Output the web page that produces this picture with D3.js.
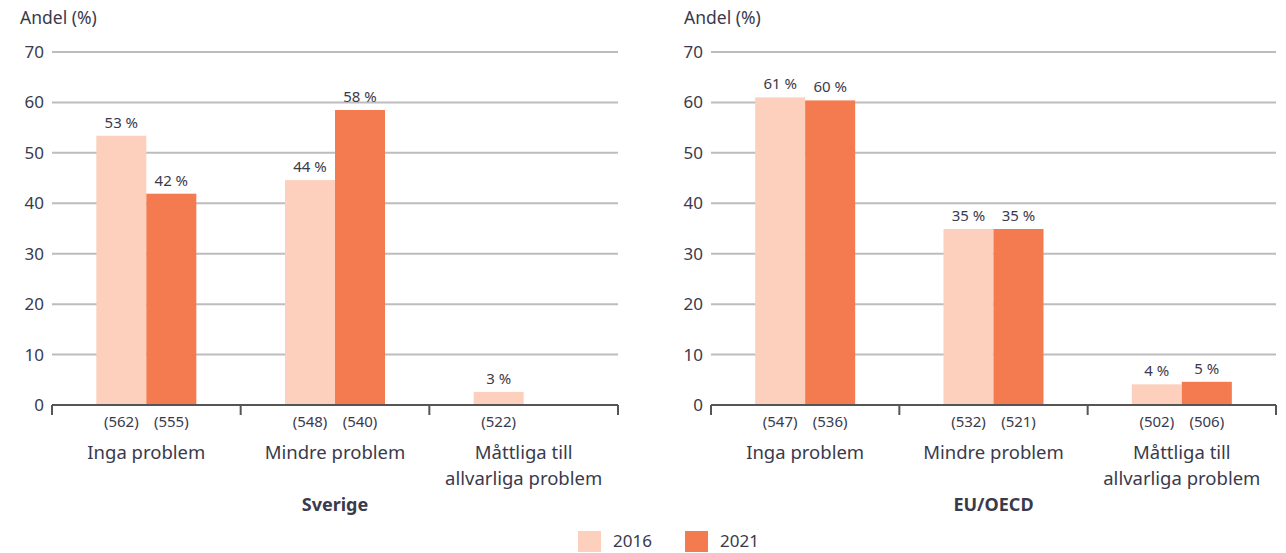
<!DOCTYPE html>
<html>
<head>
<meta charset="utf-8">
<script src="https://cdn.jsdelivr.net/npm/d3@7"></script>
<style>
  body { margin: 0; background: #fff; }
  svg text { font-family: "Noto Sans", "Open Sans", sans-serif; fill: #3a3a4c; }
</style>
</head>
<body>
<div class="svgContainer"></div>
<script>
var categories = [["Inga problem"], ["Mindre problem"], ["Måttliga till", "allvarliga problem"]];
var years = ["2016", "2021"];
var yTicks = [0, 10, 20, 30, 40, 50, 60, 70];

var sverige2016 = [53.4, 44.6, 2.6];
var sverige2021 = [41.9, 58.5, null];
var sverigeLabels2016 = ["53 %", "44 %", "3 %"];
var sverigeLabels2021 = ["42 %", "58 %", null];
var sverigeN2016 = ["(562)", "(548)", "(522)"];
var sverigeN2021 = ["(555)", "(540)", null];

var eu2016 = [61.0, 34.9, 4.1];
var eu2021 = [60.4, 34.9, 4.6];
var euLabels2016 = ["61 %", "35 %", "4 %"];
var euLabels2021 = ["60 %", "35 %", "5 %"];
var euN2016 = ["(547)", "(532)", "(502)"];
var euN2021 = ["(536)", "(521)", "(506)"];

var colors = ["#fdd0bd", "#f37b4f"];

var w = 1286, h = 553;
var svg = d3.select(".svgContainer").append("svg")
  .attr("width", w).attr("height", h);

var y = d3.scaleLinear().domain([0, 70]).range([405, 52]);

function panel(x0, x1, titleX, title, v16, v21, l16, l21, n16, n21) {
  var g = svg.append("g");
  var x = d3.scaleBand().domain(d3.range(categories.length)).range([x0, x1]);
  var sub = d3.scaleBand().domain(years).range([0, 100]);
  var barOffset = (x.bandwidth() - 100) / 2;

  // gridlines
  g.selectAll(".grid").data(yTicks.filter(d => d > 0)).enter().append("line")
    .attr("x1", x0).attr("x2", x1)
    .attr("y1", d => y(d)).attr("y2", d => y(d))
    .attr("stroke", "#bdbdbd").attr("stroke-width", 2);

  // y tick labels
  g.selectAll(".ytick").data(yTicks).enter().append("text")
    .attr("x", x0 - 8).attr("y", d => y(d) + 6)
    .attr("text-anchor", "end")
    .style("font-size", "17px")
    .text(d => d);

  g.append("text").attr("x", titleX).attr("y", 24)
    .style("font-size", "17.5px").text("Andel (%)");

  var series = [v16, v21], labels = [l16, l21], ns = [n16, n21];
  series.forEach(function (vals, s) {
    var idx = d3.range(vals.length).filter(i => vals[i] != null);
    g.selectAll(".bar" + s).data(idx).enter().append("rect")
      .attr("x", i => x(i) + barOffset + sub(years[s]))
      .attr("y", i => y(vals[i]))
      .attr("width", sub.bandwidth())
      .attr("height", i => y(0) - y(vals[i]))
      .attr("fill", colors[s]);
    g.selectAll(".lab" + s).data(idx).enter().append("text")
      .attr("x", i => x(i) + barOffset + sub(years[s]) + sub.bandwidth() / 2)
      .attr("y", i => y(vals[i]) - 8)
      .attr("text-anchor", "middle")
      .style("font-size", "15px")
      .text(i => labels[s][i]);
    g.selectAll(".n" + s).data(idx).enter().append("text")
      .attr("x", i => x(i) + barOffset + sub(years[s]) + sub.bandwidth() / 2)
      .attr("y", 427)
      .attr("text-anchor", "middle")
      .style("font-size", "15px")
      .text(i => ns[s][i]);
  });

  // x axis
  var ticks = [x0].concat(categories.map((c, i) => x(i) + x.bandwidth()));
  g.append("line").attr("x1", x0).attr("x2", x1).attr("y1", y(0)).attr("y2", y(0))
    .attr("stroke", "#555").attr("stroke-width", 2);
  g.selectAll(".xt").data(ticks).enter().append("line")
    .attr("x1", d => d).attr("x2", d => d).attr("y1", y(0)).attr("y2", y(0) + 10)
    .attr("stroke", "#555").attr("stroke-width", 2);

  categories.forEach(function (lines, i) {
    var t = g.append("text").attr("text-anchor", "middle").style("font-size", "18.5px");
    lines.forEach(function (ln, k) {
      t.append("tspan").attr("x", x(i) + x.bandwidth() / 2).attr("y", 459 + k * 26).text(ln);
    });
  });

  g.append("text").attr("x", (x0 + x1) / 2).attr("y", 511)
    .attr("text-anchor", "middle").style("font-size", "18px").style("font-weight", "bold")
    .text(title);
}

panel(52, 618, 20, "Sverige", sverige2016, sverige2021, sverigeLabels2016, sverigeLabels2021, sverigeN2016, sverigeN2021);
panel(711, 1276, 684, "EU/OECD", eu2016, eu2021, euLabels2016, euLabels2021, euN2016, euN2021);

// legend
var legX = [578, 685];
years.forEach(function (yr, i) {
  svg.append("rect").attr("x", legX[i]).attr("y", 531).attr("width", 23).attr("height", 21).attr("fill", colors[i]);
  svg.append("text").attr("x", legX[i] + 35).attr("y", 547).style("font-size", "17px").text(yr);
});
</script>
</body>
</html>
